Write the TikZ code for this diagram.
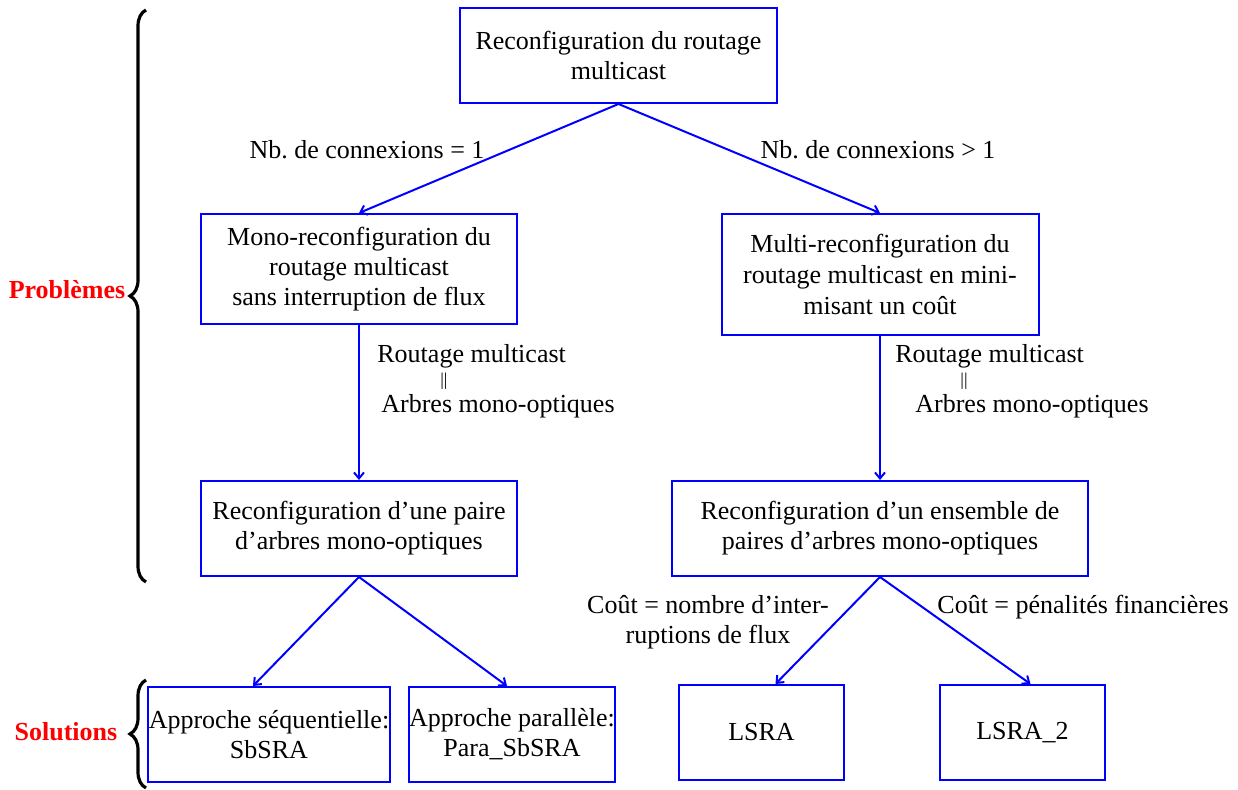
\documentclass[tikz,border=0pt]{standalone}
\usepackage{fontspec}
\setmainfont{Liberation Serif}
\usepackage{tikz}
\usetikzlibrary{positioning, arrows.meta, decorations.pathreplacing, calc}
\definecolor{BoxBlue}{RGB}{0,0,255}
\definecolor{TagRed}{RGB}{255,0,0}

\begin{document}
\begin{tikzpicture}[x=0.5pt, y=-0.5pt,
    every node/.style={font=\fontsize{13}{15}\selectfont, inner sep=0pt},
    box/.style={draw=BoxBlue, line width=1pt, align=center, minimum height=47.5pt},
    arr/.style={draw=BoxBlue, line width=1pt, -{Straight Barb[length=3pt,width=5pt]}},
    tag/.style={TagRed, font=\fontsize{13}{15}\selectfont\bfseries},
    brc/.style={decorate, decoration={brace, amplitude=8pt}, line width=1.6pt}]
  \useasboundingbox (0,0) rectangle (1238,790);

  \node[box, minimum width=158.5pt] (top) at (618.5,55.5)
        {Reconfiguration du routage\\multicast};
  \node[box, minimum width=158pt, minimum height=55pt] (mono) at (359,269)
        {Mono-reconfiguration du\\routage multicast\\sans interruption de flux};
  \node[box, minimum width=158.5pt, minimum height=60.5pt,
        font=\fontsize{13}{15.5}\selectfont] (multi) at (880,274.5)
        {Multi-reconfiguration du\\routage multicast en mini-\\misant un coût};
  \node[box, minimum width=158pt] (paire) at (359,528.5)
        {Reconfiguration d’une paire\\d’arbres mono-optiques};
  \node[box, minimum width=208pt] (ens) at (880,528.5)
        {Reconfiguration d’un ensemble de\\paires d’arbres mono-optiques};
  \node[box, minimum width=121pt] (sbsra) at (269,734.5)
        {Approche séquentielle:\\SbSRA};
  \node[box, minimum width=103pt] (para) at (512,734.5)
        {Approche parallèle:\\Para\_SbSRA};
  \node[box, minimum width=82.5pt] (lsra) at (761.5,732.5) {LSRA};
  \node[box, minimum width=82.5pt] (lsra2) at (1022.5,732.5) {LSRA\_2};

  \foreach \a/\b in {top/mono, top/multi, mono/paire, multi/ens}
    \draw[arr] (\a.south) -- (\b.north);
  \draw[arr] (paire.south) -- ($(sbsra.north)+(-16,0)$);
  \draw[arr] (paire.south) -- ($(para.north)+(-5,0)$);
  \draw[arr] (ens.south) -- ($(lsra.north)+(14,0)$);
  \draw[arr] (ens.south) -- ($(lsra2.north)+(8,0)$);

  % edge labels
  \node (nb1) at (367,150) {Nb.\ de connexions = 1};
  \node (nb2) at (878,150) {Nb.\ de connexions > 1};
  \node[anchor=west] (rtA) at (377,356) {Routage multicast};
  \node (eqA) at (444,381) {\fontsize{9}{10}\selectfont ||};
  \node[anchor=west] (arA) at (381,406) {Arbres mono-optiques};
  \node[anchor=west] (rtB) at (895,356) {Routage multicast};
  \node (eqB) at (964,381) {\fontsize{9}{10}\selectfont ||};
  \node[anchor=west] (arB) at (915,406) {Arbres mono-optiques};
  \node[align=center] (cout1) at (708,622) {Coût = nombre d’inter-\\ruptions de flux};
  \node (cout2) at (1083,607) {Coût = pénalités financières};

  \node[tag] (prob) at (67,290) {Problèmes};
  \node[tag] (sol) at (66,732) {Solutions};
  \draw[brc] (146,582) -- (146,10);
  \draw[brc] (146,788) -- (146,680);
\end{tikzpicture}
\end{document}
